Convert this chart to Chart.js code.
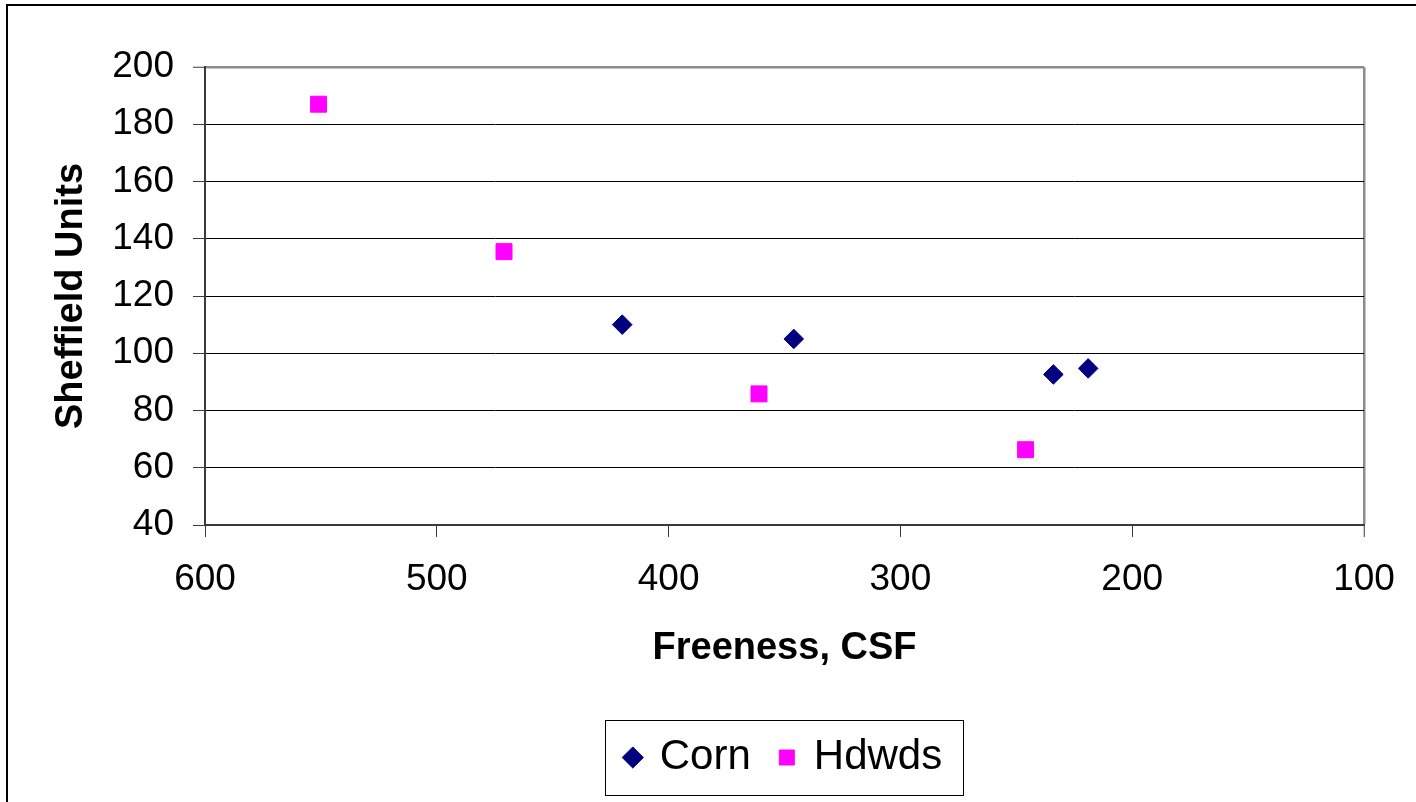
<!DOCTYPE html>
<html>
<head>
<meta charset="utf-8">
<script src="https://cdn.jsdelivr.net/npm/chart.js@4/dist/chart.umd.min.js"></script>
<style>
  html, body { margin: 0; padding: 0; background: #ffffff; }
  canvas { display: block; }
</style>
</head>
<body>
<canvas id="chart" width="1416" height="802"></canvas>
<script>
// Sheffield smoothness vs. freeness for two pulp furnishes
const seriesNames = ['Corn', 'Hdwds'];
const cornFreeness = [420, 346, 234, 219];
const cornSheffield = [110, 105, 92.6, 94.7];
const hdwdsFreeness = [551, 471, 361, 246];
const hdwdsSheffield = [187, 135.5, 85.8, 66.3];

const xTitle = 'Freeness, CSF';
const yTitle = 'Sheffield Units';
const xRange = [100, 600];
const xStep = 100;
const yRange = [40, 200];
const yStep = 20;

const FONT = "'Liberation Sans', Arial, sans-serif";
const AXIS_DARK = '#3a3a3a';
const PLOT_EDGE = '#8c8c8c';

const toPoints = (xs, ys) => xs.map((x, i) => ({ x, y: ys[i] }));

// Outer chart frame and the box around the legend entries
const framePlugin = {
  id: 'frame',
  afterDraw(chart) {
    const ctx = chart.ctx;
    ctx.save();
    ctx.strokeStyle = '#000000';
    ctx.lineWidth = 2;
    ctx.strokeRect(7, 5, chart.width + 20, chart.height + 20);

    const boxes = chart.legend && chart.legend.legendHitBoxes;
    if (boxes && boxes.length) {
      const first = boxes[0];
      const last = boxes[boxes.length - 1];
      const left = Math.round(first.left - 22);
      const right = Math.round(last.left + last.width + 21);
      const top = Math.round(first.top - 16.5);
      const bottom = Math.round(first.top + first.height + 16.5);
      ctx.lineWidth = 1;
      ctx.strokeRect(left + 0.5, top + 0.5, right - left, bottom - top);
    }
    ctx.restore();
  }
};

new Chart(document.getElementById('chart'), {
  type: 'scatter',
  data: {
    datasets: [
      {
        label: seriesNames[0],
        data: toPoints(cornFreeness, cornSheffield),
        pointStyle: 'rectRot',
        pointRadius: 9.8,
        pointHoverRadius: 9.8,
        backgroundColor: '#000080',
        borderColor: '#000080',
        borderWidth: 1
      },
      {
        label: seriesNames[1],
        data: toPoints(hdwdsFreeness, hdwdsSheffield),
        pointStyle: 'rect',
        pointRadius: 11.3,
        pointHoverRadius: 11.3,
        backgroundColor: '#ff00ff',
        borderColor: '#ff00ff',
        borderWidth: 1
      }
    ]
  },
  options: {
    responsive: false,
    animation: false,
    events: [],
    layout: { padding: { left: 0, top: 67, right: 52, bottom: 13.5 } },
    plugins: {
      tooltip: { enabled: false },
      legend: {
        position: 'bottom',
        fullSize: false,
        labels: {
          usePointStyle: true,
          boxWidth: 12,
          boxHeight: 15,
          padding: 30,
          color: '#000000',
          font: { family: FONT, size: 42 }
        }
      }
    },
    scales: {
      x: {
        type: 'linear',
        reverse: true,
        min: xRange[0],
        max: xRange[1],
        afterFit(scale) { scale.height = 181.5; },
        ticks: {
          stepSize: xStep,
          padding: 21,
          color: '#000000',
          maxRotation: 0,
          font: { family: FONT, size: 37 }
        },
        grid: {
          drawTicks: true,
          tickLength: 12,
          tickColor: AXIS_DARK,
          tickWidth: 1,
          color: (c) => (c.tick && c.tick.value === xRange[0]) ? PLOT_EDGE : 'rgba(0,0,0,0)',
          lineWidth: (c) => (c.tick && c.tick.value === xRange[0]) ? 2.5 : 1
        },
        border: { display: true, color: AXIS_DARK, width: 2 },
        title: {
          display: true,
          text: xTitle,
          color: '#000000',
          font: { family: FONT, size: 38, weight: 'bold' },
          padding: { top: 0, bottom: 35.5 }
        }
      },
      y: {
        type: 'linear',
        min: yRange[0],
        max: yRange[1],
        afterFit(scale) { scale.width = 205; },
        ticks: {
          stepSize: yStep,
          padding: 19,
          color: '#000000',
          font: { family: FONT, size: 37 }
        },
        grid: {
          drawTicks: true,
          tickLength: 12,
          tickColor: AXIS_DARK,
          tickWidth: 1,
          color: (c) => (c.tick && c.tick.value === yRange[1]) ? PLOT_EDGE : '#000000',
          lineWidth: (c) => (c.tick && c.tick.value === yRange[1]) ? 2.5 : 1
        },
        border: { display: true, color: AXIS_DARK, width: 2 },
        title: {
          display: true,
          text: yTitle,
          color: '#000000',
          font: { family: FONT, size: 38, weight: 'bold' },
          padding: { top: 48.5, bottom: 0 }
        }
      }
    }
  },
  plugins: [framePlugin]
});
</script>
</body>
</html>
